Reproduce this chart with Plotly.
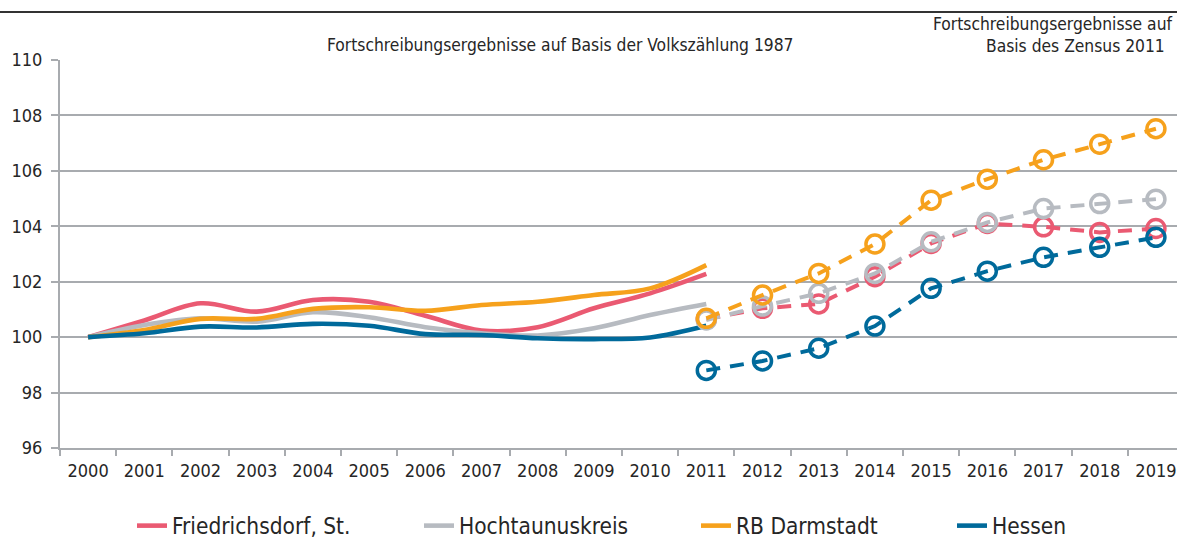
import plotly.graph_objects as go

years_hist = [2000, 2001, 2002, 2003, 2004, 2005, 2006, 2007, 2008, 2009, 2010, 2011]
years_zensus = [2011, 2012, 2013, 2014, 2015, 2016, 2017, 2018, 2019]
year_labels = [str(y) for y in range(2000, 2020)]

names = ["Friedrichsdorf, St.", "Hochtaunuskreis", "RB Darmstadt", "Hessen"]

fried_hist = [100, 100.6, 101.22, 100.92, 101.34, 101.28, 100.77, 100.24, 100.36, 101.04, 101.58, 102.28]
hoch_hist = [100, 100.44, 100.68, 100.56, 100.9, 100.72, 100.36, 100.14, 100.06, 100.32, 100.8, 101.2]
darm_hist = [100, 100.26, 100.66, 100.66, 101.02, 101.08, 100.95, 101.16, 101.28, 101.52, 101.76, 102.6]
hess_hist = [100, 100.14, 100.38, 100.35, 100.48, 100.41, 100.11, 100.08, 99.96, 99.93, 99.99, 100.41]

fried_z = [100.65, 101.04, 101.2, 102.18, 103.38, 104.1, 103.98, 103.78, 103.92]
hoch_z = [100.62, 101.12, 101.58, 102.3, 103.44, 104.14, 104.64, 104.82, 104.98]
darm_z = [100.68, 101.52, 102.3, 103.36, 104.94, 105.7, 106.4, 106.96, 107.52]
hess_z = [98.8, 99.14, 99.6, 100.4, 101.76, 102.38, 102.88, 103.24, 103.6]

y_ticks = [96, 98, 100, 102, 104, 106, 108, 110]

colors = ["#EA5A72", "#B7BBC1", "#F6A11C", "#006A9B"]
FONT = "Liberation Sans Narrow, DejaVu Sans Condensed, Arial Narrow, sans-serif"
TXT = "#262626"
GRID = "#A8ABAF"

hist = [fried_hist, hoch_hist, darm_hist, hess_hist]
zens = [fried_z, hoch_z, darm_z, hess_z]
legend_ids = ["legend", "legend2", "legend3", "legend4"]
legend_x = [136, 423, 700, 956]

fig = go.Figure()
for i in range(4):
    fig.add_trace(go.Scatter(
        x=years_hist, y=hist[i], mode="lines", name=names[i],
        line=dict(color=colors[i], width=4.6, shape="spline", smoothing=1.0),
        legend=legend_ids[i], showlegend=True, hoverinfo="skip"))
for i in range(4):
    fig.add_trace(go.Scatter(
        x=years_zensus, y=zens[i], mode="lines+markers", name=names[i],
        line=dict(color=colors[i], width=4, dash="14px,10px"),
        marker=dict(symbol="circle-open", size=18, color=colors[i],
                    line=dict(width=3.5, color=colors[i])),
        showlegend=False, hoverinfo="skip"))

minor_vals = [1999.5 + k for k in range(21)]

fig.update_layout(
    width=1177, height=540,
    margin=dict(l=60, r=0, t=60, b=92),
    paper_bgcolor="white", plot_bgcolor="white",
    font=dict(family=FONT, color=TXT, size=18),
    xaxis=dict(
        range=[1999.5, 2019.375], tickmode="array",
        tickvals=list(range(2000, 2020)), ticktext=year_labels,
        ticks="", showgrid=False, zeroline=False,
        showline=True, linecolor=GRID, linewidth=2,
        tickfont=dict(size=18, family=FONT, color=TXT),
        minor=dict(tickmode="array", tickvals=minor_vals, ticks="outside",
                   ticklen=6, tickwidth=1.5, tickcolor=GRID, showgrid=False),
        ticklabelstandoff=5,
    ),
    yaxis=dict(
        range=[96, 110], tickmode="array", tickvals=y_ticks,
        ticks="outside", ticklen=7, tickwidth=1.5, tickcolor=GRID,
        showgrid=True, gridcolor=GRID, gridwidth=1.5,
        zeroline=False, showline=True, linecolor=GRID, linewidth=2,
        tickfont=dict(size=18, family=FONT, color=TXT),
        ticklabelstandoff=5,
    ),
)

for i in range(4):
    fig.update_layout({legend_ids[i]: dict(
        x=(legend_x[i] - 4) / 1177, xref="container", xanchor="left",
        y=1 - 526 / 540, yref="container", yanchor="middle",
        orientation="h", bgcolor="rgba(0,0,0,0)", borderwidth=0,
        font=dict(size=22.5, family=FONT, color=TXT),
        itemwidth=30,
    )})

# top rule (bottom of cropped header)
fig.add_shape(type="line", xref="paper", yref="paper",
              x0=-60 / 1117, x1=1, y0=1 + 48 / 388, y1=1 + 48 / 388,
              line=dict(color="#333333", width=2))

fig.add_annotation(text="Fortschreibungsergebnisse auf Basis der Volkszählung 1987",
                   xref="paper", yref="paper", x=(560 - 60) / 1117, y=1 + 15 / 388,
                   xanchor="center", yanchor="middle", showarrow=False,
                   font=dict(size=17.3, family=FONT, color=TXT))
fig.add_annotation(text="Fortschreibungsergebnisse auf",
                   xref="paper", yref="paper", x=(1053 - 60) / 1117, y=1 + 36 / 388,
                   xanchor="center", yanchor="middle", showarrow=False,
                   font=dict(size=17.3, family=FONT, color=TXT))
fig.add_annotation(text="Basis des Zensus 2011",
                   xref="paper", yref="paper", x=(1075 - 60) / 1117, y=1 + 14 / 388,
                   xanchor="center", yanchor="middle", showarrow=False,
                   font=dict(size=17.3, family=FONT, color=TXT))

fig.write_html("out.html", config={"displayModeBar": False},
               post_script="document.body.style.margin='0px';")
